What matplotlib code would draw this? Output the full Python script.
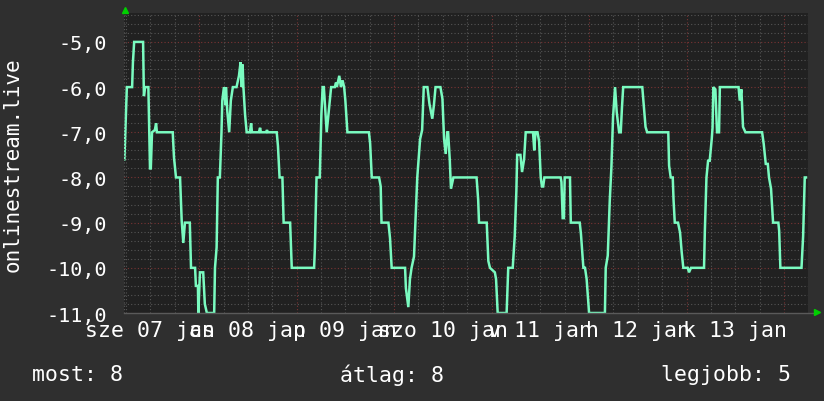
import numpy as np
import matplotlib
matplotlib.use("Agg")
import matplotlib.pyplot as plt

# hours since 07 jan 00:00, reading of the line
hours = [5.6, 5.9, 6.2, 7.5, 7.7, 8.0, 10.2, 10.4, 10.7, 11.5, 11.9, 12.1, 12.4, 13.1, 13.4, 13.6,
         17.5, 17.8, 18.3, 19.3, 19.7, 20.1, 20.5, 21.7, 22.0, 23.0, 23.2, 23.7, 23.8, 24.2, 25.0,
         25.4, 25.9, 27.7, 27.9, 28.3, 28.6, 29.1, 29.5, 29.7, 30.1, 30.5, 30.6, 30.9, 31.4, 31.8,
         32.3, 33.2, 33.8, 34.2, 34.5, 34.7, 34.9, 35.3, 35.7, 36.5, 36.8, 37.0, 38.7, 39.0, 39.2,
         40.5, 40.7, 40.9, 43.1, 43.4, 43.8, 44.5, 44.8, 46.4, 46.8, 52.3, 52.5, 52.9, 53.7, 54.1,
         54.4, 54.7, 55.4, 56.0, 56.5, 57.4, 57.7, 57.9, 58.5, 58.9, 59.3, 59.7, 60.0, 60.5, 65.8,
         66.1, 66.5, 68.3, 68.7, 68.9, 70.6, 71.0, 71.4, 74.7, 74.9, 75.5, 75.9, 76.3, 76.9, 77.7,
         78.4, 78.9, 79.3, 80.2, 80.7, 81.4, 81.8, 82.2, 83.4, 83.9, 84.3, 84.7, 85.1, 85.3, 85.7,
         86.0, 86.6, 92.3, 92.7, 92.9, 94.8, 95.2, 95.6, 96.8, 97.1, 97.5, 99.7, 100.1, 101.2,
         101.7, 102.1, 102.3, 103.1, 103.5, 104.0, 104.4, 106.2, 106.5, 106.8, 107.3, 107.7, 108.1,
         108.4, 108.7, 109.0, 113.0, 113.2, 113.5, 113.8, 114.0, 115.3, 115.5, 117.7, 118.0, 118.6,
         119.0, 119.4, 120.0, 123.9, 124.1, 124.6, 125.1, 125.5, 125.9, 126.4, 126.8, 127.4, 127.8,
         128.1, 128.4, 133.1, 133.5, 133.9, 134.3, 139.5, 139.7, 140.1, 140.6, 140.8, 141.1, 141.9,
         142.4, 142.8, 143.2, 144.3, 144.6, 145.1, 148.3, 148.5, 148.9, 149.3, 149.7, 150.2, 150.4,
         150.6, 151.1, 151.5, 152.0, 152.2, 156.8, 157.1, 157.5, 157.9, 158.5, 162.6, 163.0, 163.5,
         164.0, 164.3, 164.8, 165.3, 166.6, 166.8, 167.1, 172.3, 172.7, 173.1, 173.4]
values = [-7.6, -6.8, -6.0, -6.0, -5.45, -5.0, -5.0, -6.2, -6.0, -6.0, -7.8, -7.8, -7.0, -6.95, -6.8, -7.0,
          -7.0, -7.55, -8.0, -8.0, -8.95, -9.45, -9.0, -9.0, -10.0, -10.0, -10.4, -10.4, -11.0, -10.1, -10.1,
          -10.8, -11.0, -11.0, -10.0, -9.55, -8.0, -8.0, -7.0, -6.3, -6.0, -6.4, -6.0, -6.5, -7.0, -6.3,
          -6.0, -6.0, -5.75, -5.45, -6.0, -5.5, -6.0, -6.6, -7.0, -7.0, -6.8, -7.0, -7.0, -6.9, -7.0,
          -7.0, -6.95, -7.0, -7.0, -7.3, -8.0, -8.0, -9.0, -9.0, -10.0, -10.0, -9.55, -8.0, -8.0, -6.6,
          -6.0, -6.0, -7.0, -6.45, -6.0, -6.0, -5.9, -6.0, -5.75, -6.0, -5.85, -6.0, -6.3, -7.0, -7.0,
          -7.25, -8.0, -8.0, -8.2, -9.0, -9.0, -9.35, -10.0, -10.0, -10.45, -10.87, -10.25, -10.0, -9.75, -8.0,
          -7.15, -6.95, -6.0, -6.0, -6.37, -6.7, -6.4, -6.0, -6.0, -6.26, -7.15, -7.48, -7.0, -7.0, -7.6,
          -8.25, -8.0, -8.0, -8.5, -9.0, -9.0, -9.85, -10.0, -10.1, -10.25, -11.0, -11.0, -10.0, -10.0,
          -9.3, -8.3, -7.5, -7.5, -7.88, -7.6, -7.0, -7.0, -7.4, -7.0, -7.0, -7.2, -8.0,
          -8.2, -8.2, -8.0, -8.0, -8.1, -8.9, -8.9, -8.0, -8.0, -9.0, -9.0, -9.25, -10.0,
          -10.0, -10.25, -11.0, -11.0, -10.0, -9.73, -8.5, -7.77, -6.67, -6.0, -6.55, -7.0, -7.0,
          -6.45, -6.0, -6.0, -6.45, -6.88, -7.0, -7.0, -7.74, -8.0, -8.0, -8.5, -9.0, -9.0,
          -9.22, -9.65, -10.0, -10.0, -10.1, -10.0, -10.0, -9.2, -8.0, -7.63, -7.63, -7.15, -6.9,
          -6.0, -6.05, -7.0, -7.0, -6.0, -6.0, -6.3, -6.05, -6.88, -7.0, -7.0, -7.26, -7.7,
          -7.7, -8.0, -8.25, -9.0, -9.0, -9.18, -10.0, -10.0, -9.3, -8.0, -8.0]

day_labels = ["sze 07 jan", "cs 08 jan", "p 09 jan", "szo 10 jan", "v 11 jan", "h 12 jan", "k 13 jan"]
label_hours = [12, 36, 60, 84, 108, 132, 156]
y_ticks = [-11, -10, -9, -8, -7, -6, -5]
legend = ["most: 8", "átlag: 8", "legjobb: 5"]

BACK = "#2f2f2f"
CANVAS = "#212121"
FONT = "DejaVu Sans Mono"

fig = plt.figure(figsize=(8.24, 4.02), dpi=100, facecolor=BACK)
ax = fig.add_axes([124 / 824, 88 / 402, 684 / 824, 300 / 402])
ax.set_facecolor(CANVAS)
ax.set_xlim(5.5, 173.9)
ax.set_ylim(-11, -4.36)

# grid, rrdtool style
for y in np.arange(-11, -4.3, 0.2):
    if abs(y - round(y)) < 1e-6:
        ax.axhline(y, color="#7a3434", lw=0.8, ls=(0, (1, 2)), zorder=1)
    else:
        ax.axhline(y, color="#555555", lw=0.8, ls=(0, (1, 2)), zorder=1)
for h in range(6, 174, 6):
    if h % 24 == 0:
        ax.axvline(h, color="#7a3434", lw=0.8, ls=(0, (1, 2)), zorder=1)
    else:
        ax.axvline(h, color="#555555", lw=0.8, ls=(0, (1, 2)), zorder=1)

ax.plot(hours, values, color="#7afbc0", lw=1.8, zorder=3, solid_joinstyle="miter")

for s in ax.spines.values():
    s.set_visible(False)

ax.set_yticks(y_ticks)
ax.set_yticklabels([("%.1f" % v).replace(".", ",") for v in y_ticks],
                   fontsize=14.5, family=FONT, color="white")
ax.set_xticks(label_hours)
ax.set_xticklabels(day_labels, fontsize=15.5, family=FONT, color="white")
ax.tick_params(axis="y", length=0, pad=12)
ax.tick_params(axis="x", length=0, pad=5)

# axis lines with green arrows
ax.plot([0, 1.01], [0, 0], transform=ax.transAxes, color="#5a5a5a", lw=1, clip_on=False, zorder=4)
ax.plot([0, 0], [0, 1.0], transform=ax.transAxes, color="#5a5a5a", lw=0.8, ls=(0, (1, 2)), clip_on=False, zorder=4)
ax.plot([1.0135], [0.005], marker=">", ms=5, color="#00d000", transform=ax.transAxes, clip_on=False, zorder=5)
ax.plot([0.0015], [1.01], marker="^", ms=5, color="#00d000", transform=ax.transAxes, clip_on=False, zorder=5)

fig.text(13 / 824, 1 - 165 / 402, "onlinestream.live", rotation=90, ha="center", va="center",
         fontsize=15, family=FONT, color="white")

fig.text(32 / 824, 1 - 375 / 402, legend[0], ha="left", va="center", fontsize=15.5, family=FONT, color="white")
fig.text(392 / 824, 1 - 375 / 402, legend[1], ha="center", va="center", fontsize=15.5, family=FONT, color="white")
fig.text(791 / 824, 1 - 375 / 402, legend[2], ha="right", va="center", fontsize=15.5, family=FONT, color="white")

fig.savefig("out.png", dpi=100, facecolor=BACK)
